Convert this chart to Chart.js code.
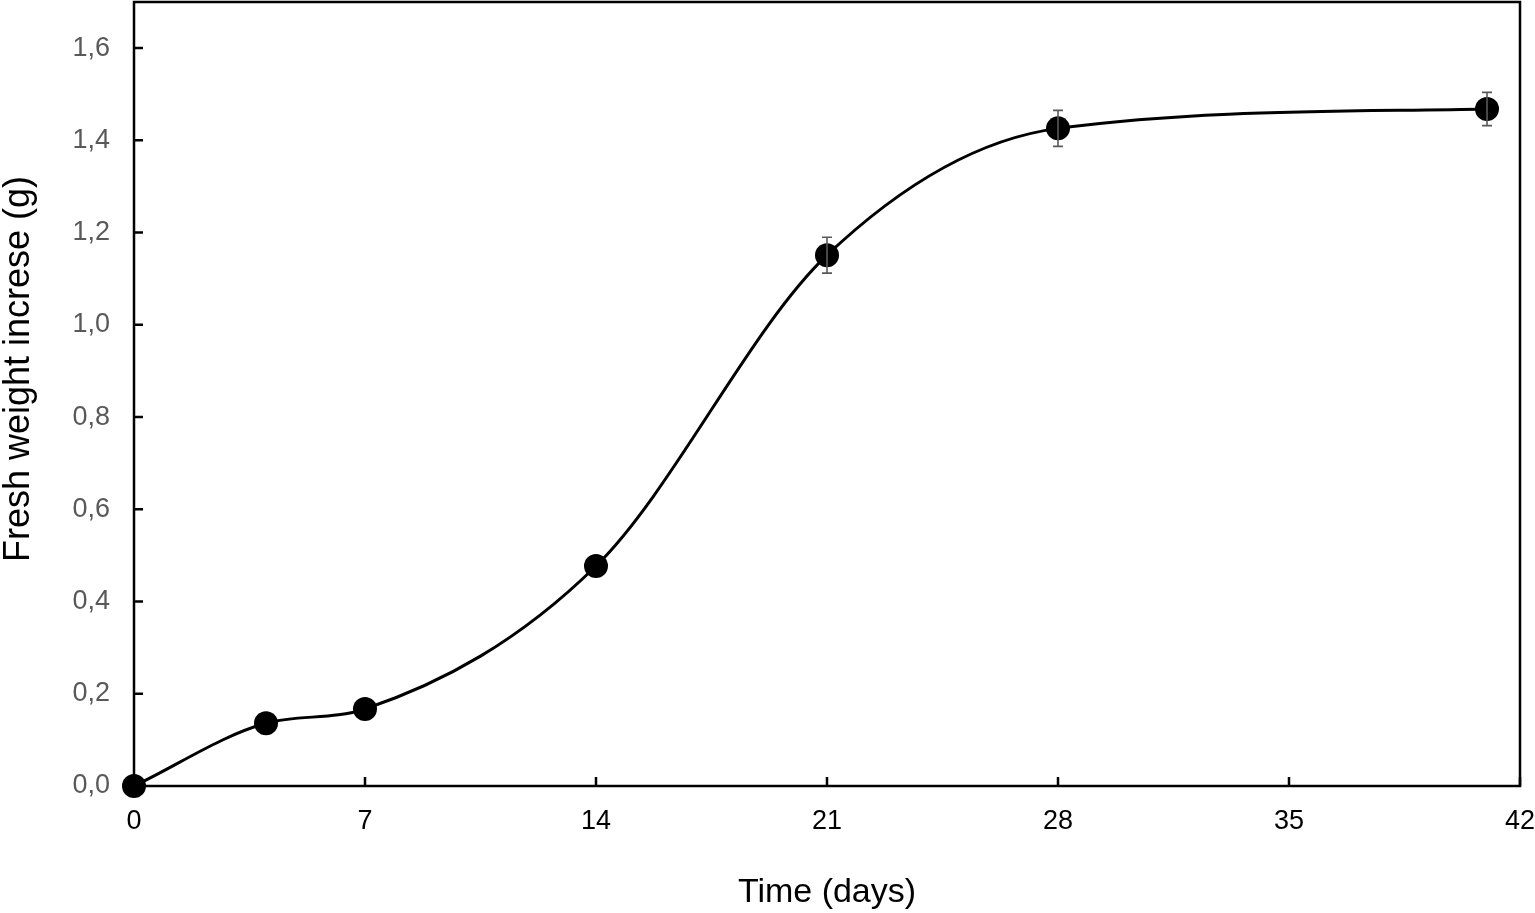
<!DOCTYPE html>
<html>
<head>
<meta charset="utf-8">
<script src="https://cdn.jsdelivr.net/npm/chart.js@4.4.1/dist/chart.umd.min.js"></script>
<style>
html,body{margin:0;padding:0;background:#fff;}
#wrap{width:1535px;height:913px;position:relative;}
</style>
</head>
<body>
<div id="wrap"><canvas id="c"></canvas></div>
<script>
const days = [0, 4, 7, 14, 21, 28, 41];
const weight = [0, 0.136, 0.167, 0.477, 1.151, 1.426, 1.468];
const errors = [0, 0, 0, 0, 0.039, 0.039, 0.036];
const xTicks = [0, 7, 14, 21, 28, 35, 42];
const yTicks = [0, 0.2, 0.4, 0.6, 0.8, 1.0, 1.2, 1.4, 1.6];
const yTitle = 'Fresh weight increse (g)';
const xTitle = 'Time (days)';

const FONT = "'Liberation Sans', Arial, sans-serif";

const points = days.map((d, i) => ({x: d, y: weight[i]}));

const framePlugin = {
  id: 'frame',
  afterDatasetsDraw(chart) {
    const {ctx, scales} = chart;
    const xs = scales.x, ys = scales.y;
    ctx.save();
    ctx.strokeStyle = '#595959';
    ctx.lineWidth = 1.6;
    days.forEach((d, i) => {
      if (!errors[i]) return;
      const px = xs.getPixelForValue(d);
      const top = ys.getPixelForValue(weight[i] + errors[i]);
      const bot = ys.getPixelForValue(weight[i] - errors[i]);
      ctx.beginPath();
      ctx.moveTo(px, top); ctx.lineTo(px, bot);
      ctx.moveTo(px - 5, top); ctx.lineTo(px + 5, top);
      ctx.moveTo(px - 5, bot); ctx.lineTo(px + 5, bot);
      ctx.stroke();
    });
    ctx.restore();
  },
  beforeDatasetsDraw(chart) {
    const {ctx, chartArea: a, scales} = chart;
    const xs = scales.x, ys = scales.y;
    ctx.save();
    ctx.strokeStyle = '#000';
    ctx.lineWidth = 2.5;
    ctx.strokeRect(a.left, a.top, a.right - a.left, a.bottom - a.top);
    ctx.beginPath();
    yTicks.forEach(v => {
      const py = ys.getPixelForValue(v);
      ctx.moveTo(a.left, py); ctx.lineTo(a.left + 9, py);
    });
    xTicks.forEach(v => {
      const px = xs.getPixelForValue(v);
      ctx.moveTo(px, a.bottom); ctx.lineTo(px, a.bottom - 9);
    });
    ctx.stroke();
    // y axis title (slightly above the axis centre, as in the original)
    ctx.fillStyle = '#000';
    ctx.font = '36px ' + FONT;
    ctx.textAlign = 'center';
    ctx.textBaseline = 'middle';
    ctx.translate(19, (a.top + a.bottom) / 2 - 25);
    ctx.rotate(-Math.PI / 2);
    ctx.fillText(yTitle, 0, 0);
    ctx.restore();
  }
};

new Chart(document.getElementById('c'), {
  type: 'scatter',
  data: {
    datasets: [{
      data: points,
      showLine: true,
      borderColor: '#000',
      borderWidth: 3,
      cubicInterpolationMode: 'monotone',
      pointRadius: 12,
      pointBackgroundColor: '#000',
      pointBorderColor: '#000',
      pointBorderWidth: 0,
      clip: false
    }]
  },
  options: {
    responsive: true,
    maintainAspectRatio: false,
    animation: false,
    devicePixelRatio: 1,
    layout: {padding: {left: 0, right: 15, top: 2, bottom: 0}, autoPadding: false},
    plugins: {legend: {display: false}, tooltip: {enabled: false}},
    scales: {
      x: {
        type: 'linear',
        min: 0, max: 42,
        afterBuildTicks(s) { s.ticks = xTicks.map(v => ({value: v})); },
        afterFit(s) { s.height = 913 - 786; s.paddingLeft = 0; s.paddingRight = 0; },
        grid: {display: false, drawTicks: false},
        border: {display: false},
        ticks: {
          color: '#000',
          padding: 19,
          maxRotation: 0,
          font: {family: FONT, size: 27},
          callback: v => String(v)
        },
        title: {
          display: true,
          text: xTitle,
          color: '#000',
          font: {family: FONT, size: 34},
          padding: {top: 30, bottom: 0}
        }
      },
      y: {
        type: 'linear',
        min: 0, max: 1.7,
        afterBuildTicks(s) { s.ticks = yTicks.map(v => ({value: v})); },
        afterFit(s) { s.width = 134; s.paddingTop = 0; s.paddingBottom = 0; },
        grid: {display: false, drawTicks: false},
        border: {display: false},
        ticks: {
          color: '#595959',
          padding: 24,
          font: {family: FONT, size: 27},
          callback: v => v.toFixed(1).replace('.', ',')
        },
        title: {display: false}
      }
    }
  },
  plugins: [framePlugin]
});
</script>
</body>
</html>
